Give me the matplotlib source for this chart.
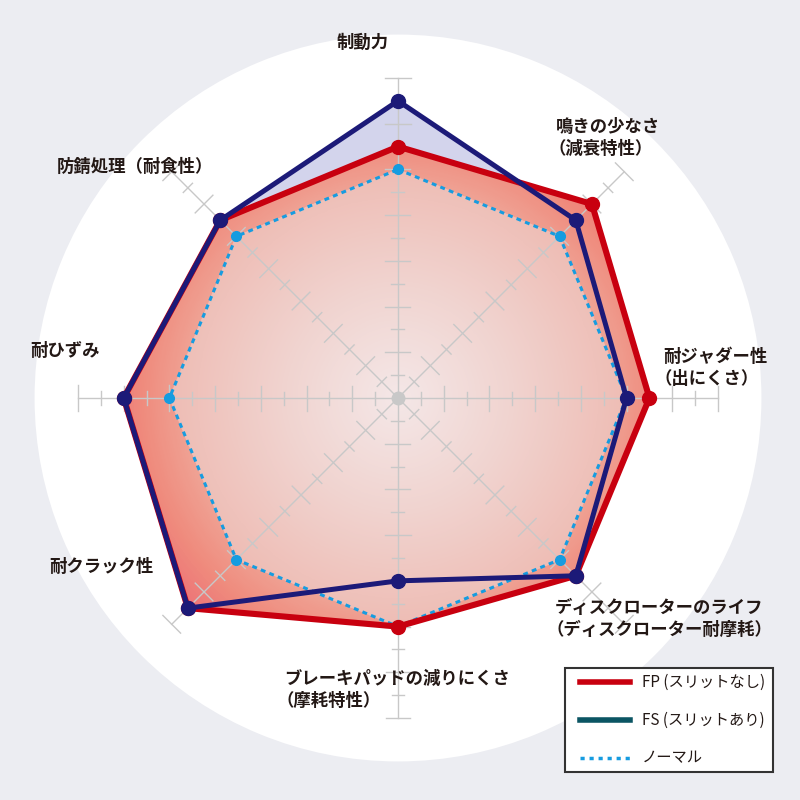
import numpy as np
import matplotlib
matplotlib.use('Agg')
import matplotlib.pyplot as plt
from matplotlib.colors import LinearSegmentedColormap
from matplotlib.lines import Line2D
from matplotlib.patches import Rectangle

plt.rcParams['font.family'] = ['Noto Sans CJK JP', 'DejaVu Sans']

# axes, clockwise from top
categories = [['制動力'],
              ['鳴きの少なさ', '（減衰特性）'],
              ['耐ジャダー性', '（出にくさ）'],
              ['ディスクローターのライフ', '（ディスクローター耐摩耗）'],
              ['ブレーキパッドの減りにくさ', '（摩耗特性）'],
              ['耐クラック性'],
              ['耐ひずみ'],
              ['防錆処理（耐食性）']]
fp_values = [11, 12, 11, 11, 10, 13, 12, 11]
fs_values = [13, 11, 10, 11, 8, 13, 12, 11]
normal_values = [10, 10, 10, 10, 10, 10, 10, 10]
series_names = ['FP (スリットなし)', 'FS (スリットあり)', 'ノーマル']
r_max = 14

# label anchors in pixels (left x, centre y of first line)
label_pos = [(337, 43), (556, 127), (663, 357), (555, 608),
             (284, 679), (49, 567), (30, 351), (57, 167)]

RED = '#c8000f'
NAVY = '#1c1a78'
BLUE = '#169ce0'
TEAL = '#0b5563'
GRID = '#c8c8c8'

n = len(fp_values)
theta = np.arange(n) * 2 * np.pi / n
th_c = np.append(theta, theta[0])

def closed(v):
    return np.append(v, v[0])

fig = plt.figure(figsize=(8, 8), dpi=100, facecolor='#ecedf2')
# centre at (398, 398) px, 22.86 px per unit, white disc out to 15.9 units
unit = 320 / r_max
r_disc = 15.9
rad_px = r_disc * unit
ax = fig.add_axes([(398 - rad_px) / 800, (402 - rad_px) / 800, 2 * rad_px / 800, 2 * rad_px / 800],
                  projection='polar')
ax.set_theta_zero_location('N')
ax.set_theta_direction(-1)
ax.set_ylim(0, r_disc)
ax.set_facecolor('white')
ax.grid(False)
ax.set_xticks([])
ax.set_yticks([])
ax.spines['polar'].set_visible(False)

# FS fill (lavender)
ax.fill(th_c, closed(fs_values), color='#d3d4ec', zorder=1, lw=0)

# FP fill with radial gradient
tg = np.linspace(0, 2 * np.pi, 361)
rg = np.linspace(0, r_max, 200)
T, R = np.meshgrid(tg, rg)
cmap_fp = LinearSegmentedColormap.from_list('fp', [(0, '#f4e6e6'), (0.45, '#f0cdc7'),
                                                   (0.66, '#efa395'), (0.8, '#ef8b7d'),
                                                   (0.9, '#ed7878'), (1.0, '#e9607e')])
poly_fp = ax.fill(th_c, closed(fp_values), color='none', lw=0, zorder=2)[0]
mesh = ax.pcolormesh(T, R, R / r_max, cmap=cmap_fp, vmin=0, vmax=1, shading='auto', zorder=2)
mesh.set_clip_path(poly_fp)

# lighter inner area of the normal polygon
cmap_nm = LinearSegmentedColormap.from_list('nm', ['#f4e7e7', '#f0d3cf', '#eebcb4'])
poly_nm = ax.fill(th_c, closed(normal_values), color='none', lw=0, zorder=3)[0]
mesh2 = ax.pcolormesh(T, R, R / normal_values[0], cmap=cmap_nm, vmin=0, vmax=1, shading='auto', zorder=3)
mesh2.set_clip_path(poly_nm)

# axis lines and cross ticks
for t in theta:
    ax.plot([t, t], [0, r_max], color=GRID, lw=1.0, zorder=4)
    for k in range(1, r_max + 1):
        half = (12.5 if k % 2 == 0 else 6.5) / unit
        dth = np.arctan(half / k)
        rr = np.hypot(k, half)
        ax.plot([t - dth, t + dth], [rr, rr], color=GRID, lw=1.0, zorder=4)
ax.plot([0], [0], 'o', color=GRID, ms=9, zorder=4)

# series
ax.plot(th_c, closed(normal_values), color=BLUE, lw=2.2, ls=(0, (1.6, 1.4)), zorder=5)
ax.plot(theta, normal_values, 'o', color=BLUE, ms=7, zorder=5)
ax.plot(th_c, closed(fp_values), color=RED, lw=4.4, zorder=6, solid_joinstyle='miter')
ax.plot(theta, fp_values, 'o', color=RED, ms=10, zorder=6)
ax.plot(th_c, closed(fs_values), color=NAVY, lw=3.6, zorder=7, solid_joinstyle='miter')
ax.plot(theta, fs_values, 'o', color=NAVY, ms=10, zorder=7)

# category labels (second lines start with a bracket, pulled left a bit)
for lines, (x, y) in zip(categories, label_pos):
    for i, s in enumerate(lines):
        dx = -8 if s.startswith('（') else 0
        fig.text((x + dx) / 800, 1 - (y + 22 * i) / 800, s, ha='left', va='center',
                 fontsize=12.5, fontweight='bold', color='#231815')

# legend box drawn by hand to match the original layout
fig.patches.append(Rectangle((565 / 800, 28 / 800), 208 / 800, 104 / 800,
                             transform=fig.transFigure, facecolor='white',
                             edgecolor='#333333', lw=1.5, zorder=10))
leg_styles = [dict(color=RED, lw=4),
              dict(color=TEAL, lw=4),
              dict(color=BLUE, lw=2.5, ls=(0, (1.2, 1.4)))]
for i, (name, st) in enumerate(zip(series_names, leg_styles)):
    yy = 1 - (682 + 38 * i) / 800
    fig.add_artist(Line2D([580 / 800, 630 / 800], [yy, yy], transform=fig.transFigure,
                          zorder=11, **st))
    fig.text(642 / 800, yy, name, ha='left', va='center', fontsize=11,
             color='#231815', zorder=11)

fig.savefig('out.png', dpi=100, facecolor=fig.get_facecolor())
